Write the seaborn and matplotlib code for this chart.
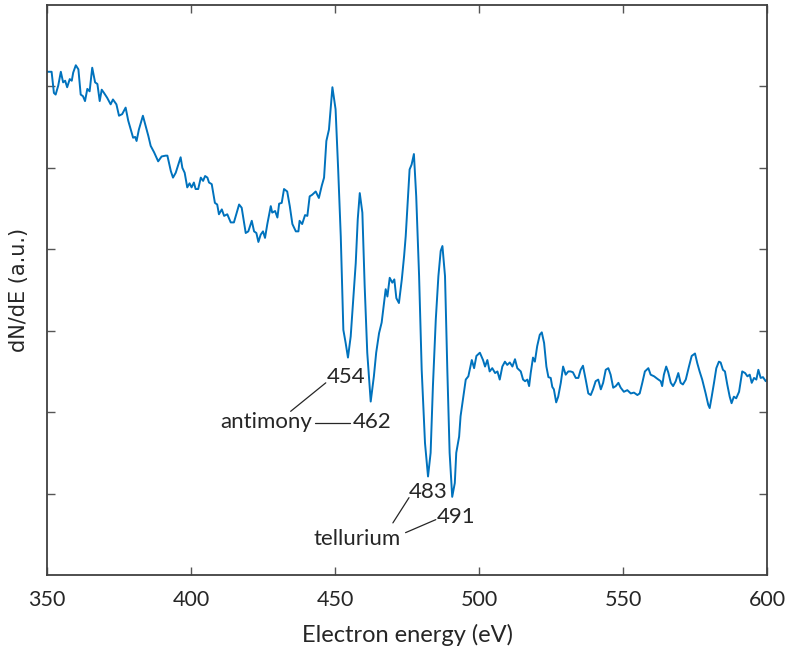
import matplotlib
matplotlib.use("Agg")
import matplotlib.pyplot as plt
import seaborn as sns
import pandas as pd

energy = [350.0, 350.45, 351.6, 352.4, 353.0, 353.9, 354.8, 355.6, 356.3, 357.0, 357.9, 358.6, 359.1, 360.0, 360.9,
          361.7, 362.5, 363.2, 364.0, 364.8, 365.7, 366.7, 367.5, 368.3, 369.0, 369.8, 370.9, 372.1, 372.9,
          374.1, 375.0, 376.1, 377.3, 378.2, 379.1, 379.9, 380.6, 381.1, 381.9, 383.3, 384.3, 385.2, 386.0,
          387.2, 388.6, 389.8, 391.2, 391.8, 393.0, 393.75, 394.7, 395.6, 396.4, 397.0, 397.8, 398.7, 399.5,
          400.2, 401.0, 401.6, 402.5, 403.4, 404.2, 404.9, 405.7, 406.25, 407.2, 408.3, 409.1, 409.7, 410.7,
          411.5, 412.6, 413.8, 414.9, 416.7, 417.6, 419.0, 419.9, 421.1, 421.9, 422.7, 423.4, 424.2, 425.0,
          425.7, 426.5, 427.7, 428.2, 429.2, 430.0, 430.6, 431.5, 432.3, 433.4, 434.3, 435.2, 436.4, 437.3,
          437.7, 438.6, 439.6, 440.4, 441.2, 442.1, 443.3, 444.4, 445.4, 446.2, 447.0, 447.9, 449.1, 450.2,
          451.1, 452.0, 452.9, 453.7, 454.5, 455.45, 456.25, 457.2, 457.9, 458.6, 459.5, 460.3, 461.2, 462.4,
          463.5, 464.3, 465.3, 466.2, 467.0, 467.6, 468.2, 469.0, 469.9, 470.6, 471.3, 472.2, 473.2, 474.0,
          474.55, 475.1, 475.9, 476.6, 477.4, 478.2, 479.2, 480.1, 481.25, 482.3, 483.2, 484.0, 485.0, 485.9,
          486.7, 487.3, 488.2, 489.0, 489.8, 490.7, 491.6, 492.1, 493.1, 493.6, 494.4, 495.4, 496.3, 497.5,
          498.3, 499.1, 500.3, 501.4, 502.1, 502.9, 503.7, 504.6, 505.6, 506.4, 507.2, 508.1, 509.0, 509.8,
          510.7, 511.6, 512.5, 513.3, 514.5, 515.3, 516.0, 516.8, 517.4, 517.95, 518.75, 519.4, 520.2, 521.1,
          521.8, 522.6, 523.4, 524.1, 524.9, 525.45, 526.0, 526.8, 527.5, 528.4, 529.2, 530.1, 531.0, 531.8,
          532.6, 533.6, 534.5, 535.3, 536.1, 537.05, 537.95, 538.8, 539.6, 540.5, 541.4, 542.3, 543.1, 544.0,
          544.9, 545.7, 546.6, 547.5, 548.4, 549.2, 550.3, 551.5, 552.7, 553.8, 555.0, 555.8, 556.7, 557.6,
          558.8, 559.6, 560.8, 561.9, 563.1, 563.6, 564.2, 565.0, 565.7, 566.6, 567.4, 568.3, 569.2, 570.0,
          570.8, 571.8, 572.9, 573.85, 575.0, 575.8, 576.6, 577.5, 578.7, 579.6, 580.1, 580.8, 581.6, 582.4,
          583.3, 583.9, 584.7, 585.4, 586.2, 587.05, 587.7, 588.5, 589.3, 590.3, 591.4, 592.4, 593.2, 594.0,
          594.7, 595.5, 596.3, 597.0, 597.8, 598.6, 599.55, 600.0]

dnde = [6.18, 6.18, 6.18, 5.92, 5.90, 6.01, 6.18, 6.05, 6.07, 5.99, 6.09, 6.07, 6.17, 6.26, 6.21,
        5.90, 5.88, 5.82, 5.97, 5.94, 6.23, 6.05, 6.03, 5.82, 5.96, 5.92, 5.86, 5.78, 5.84,
        5.78, 5.64, 5.66, 5.74, 5.58, 5.47, 5.37, 5.38, 5.33, 5.47, 5.64, 5.51, 5.39, 5.27,
        5.19, 5.08, 5.14, 5.15, 5.15, 4.96, 4.88, 4.94, 5.04, 5.13, 5.00, 4.94, 4.76, 4.81,
        4.76, 4.82, 4.74, 4.74, 4.88, 4.84, 4.90, 4.88, 4.82, 4.80, 4.57, 4.55, 4.43, 4.49,
        4.41, 4.43, 4.33, 4.33, 4.55, 4.51, 4.20, 4.22, 4.35, 4.22, 4.20, 4.09, 4.18, 4.22,
        4.14, 4.31, 4.53, 4.45, 4.47, 4.39, 4.56, 4.57, 4.74, 4.71, 4.53, 4.31, 4.22, 4.22,
        4.35, 4.31, 4.42, 4.41, 4.65, 4.67, 4.71, 4.63, 4.78, 4.88, 5.33, 5.47, 5.99, 5.72,
        4.98, 4.16, 3.01, 2.85, 2.67, 2.93, 3.34, 3.83, 4.37, 4.69, 4.45, 3.55, 2.73, 2.13,
        2.44, 2.73, 2.97, 3.10, 3.34, 3.51, 3.42, 3.65, 3.59, 3.63, 3.40, 3.34, 3.63, 3.92,
        4.16, 4.49, 4.98, 5.04, 5.17, 4.65, 3.67, 2.52, 1.62, 1.21, 1.50, 2.32, 3.14, 3.67,
        3.98, 4.04, 3.67, 2.52, 1.50, 0.96, 1.13, 1.50, 1.70, 1.95, 2.15, 2.40, 2.44, 2.64,
        2.54, 2.69, 2.73, 2.64, 2.56, 2.64, 2.50, 2.54, 2.48, 2.50, 2.40, 2.56, 2.62, 2.58,
        2.61, 2.56, 2.65, 2.54, 2.50, 2.40, 2.38, 2.40, 2.32, 2.48, 2.67, 2.62, 2.81, 2.95,
        2.98, 2.85, 2.56, 2.43, 2.42, 2.31, 2.28, 2.12, 2.19, 2.36, 2.56, 2.46, 2.50, 2.50,
        2.49, 2.42, 2.42, 2.52, 2.57, 2.40, 2.23, 2.21, 2.28, 2.38, 2.40, 2.28, 2.36, 2.52,
        2.54, 2.46, 2.30, 2.32, 2.36, 2.30, 2.25, 2.27, 2.23, 2.24, 2.21, 2.23, 2.36, 2.50,
        2.54, 2.46, 2.44, 2.41, 2.38, 2.32, 2.46, 2.56, 2.49, 2.36, 2.32, 2.38, 2.48, 2.36,
        2.34, 2.40, 2.56, 2.69, 2.72, 2.60, 2.50, 2.40, 2.23, 2.09, 2.05, 2.19, 2.36, 2.54,
        2.62, 2.61, 2.52, 2.50, 2.34, 2.19, 2.11, 2.19, 2.17, 2.25, 2.50, 2.48, 2.44, 2.46,
        2.36, 2.42, 2.40, 2.52, 2.42, 2.43, 2.38, 2.40]

x_ticks = [350, 400, 450, 500, 550, 600]
y_ticks = [1, 2, 3, 4, 5, 6]

# annotation labels: (text, x, y)
peak_labels = [("454", 447.2, 2.36), ("462", 456.3, 1.81),
               ("483", 475.7, 0.95), ("491", 485.5, 0.64)]
element_labels = [("antimony", 442.2, 1.81), ("tellurium", 472.8, 0.37)]
leaders = [((434.6, 446.8), (2.01, 2.36)), ((442.9, 455.3), (1.87, 1.87)),
           ((470.1, 475.7), (0.64, 0.95)), ((474.5, 485.0), (0.52, 0.68))]

df = pd.DataFrame({"energy": energy, "dnde": dnde})

sns.set_style("ticks")
plt.rcParams["font.family"] = ["Lato", "DejaVu Sans"]

fig = plt.figure(figsize=(7.86, 6.57), dpi=100)
ax = fig.add_axes([47 / 786, 82 / 657, 720 / 786, 570 / 657])

sns.lineplot(data=df, x="energy", y="dnde", ax=ax, color="#0072BD", linewidth=1.4, sort=False)

ax.set_xlim(350, 600)
ax.set_ylim(0, 7)
ax.set_xticks(x_ticks)
ax.set_yticks(y_ticks)
ax.set_yticklabels([])
ax.tick_params(direction="in", top=True, right=True, length=6, width=1.0,
               color="#555555", labelsize=15.5, labelcolor="#262626", pad=11)
for s in ax.spines.values():
    s.set_visible(True)
    s.set_color("#404040")
    s.set_linewidth(1.3)

ax.set_xlabel("Electron energy (eV)", fontsize=17, color="#262626", labelpad=10)
ax.set_ylabel("dN/dE (a.u.)", fontsize=15, color="#262626", labelpad=2,
              family=["DejaVu Sans"])

txt_kw = dict(fontsize=16, color="#262626", va="baseline")
for t, x, y in peak_labels:
    ax.text(x, y, t, ha="left", **txt_kw)
for t, x, y in element_labels:
    ax.text(x, y, t, ha="right", **txt_kw)
for xs, ys in leaders:
    ax.plot(xs, ys, color="#262626", linewidth=0.9)

fig.savefig("out.png", dpi=100)
